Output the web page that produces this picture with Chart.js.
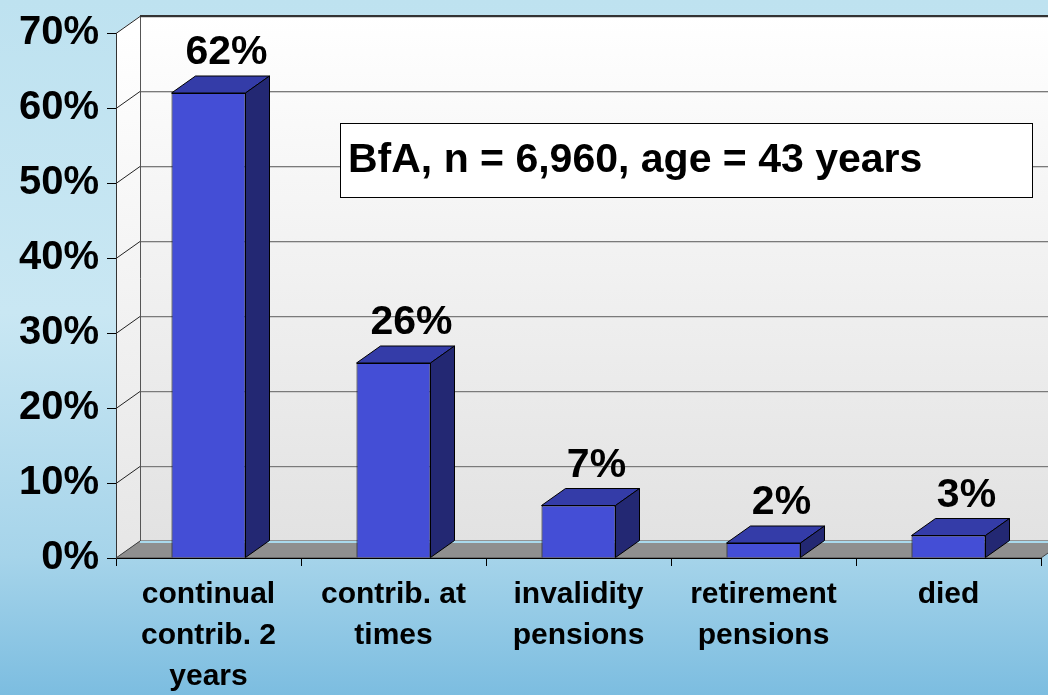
<!DOCTYPE html>
<html>
<head>
<meta charset="utf-8">
<script src="https://cdn.jsdelivr.net/npm/chart.js@4.4.0/dist/chart.umd.min.js"></script>
<style>
html, body { margin: 0; padding: 0; }
body { width: 1048px; height: 695px; overflow: hidden;
  background: linear-gradient(180deg, #bee2f0 0%, #c9e7f3 45%, #a6d4ea 80%, #7cbde0 100%); }
#wrap { position: relative; width: 1048px; height: 695px; }
</style>
</head>
<body>
<div id="wrap"><canvas id="mycanvas1"></canvas></div>
<script>
// data
var categories = [
  ["continual", "contrib. 2", "years"],
  ["contrib. at", "times"],
  ["invalidity", "pensions"],
  ["retirement", "pensions"],
  ["died"]
];
var percents = [62, 26, 7, 2, 3];
var yTicks = [0, 10, 20, 30, 40, 50, 60, 70];
var boxText = "BfA, n = 6,960, age = 43 years";

var FONT = '"Liberation Sans", Arial, sans-serif';
var DX = 24, DY = -17;   // depth of the 3d walls / bars

var walls = {
  id: 'walls',
  beforeDraw: function(chart) {
    var ctx = chart.ctx, a = chart.chartArea, y = chart.scales.y;
    var y0 = y.getPixelForValue(0), yTop = y.getPixelForValue(70);
    ctx.save();
    // back wall
    var g = ctx.createLinearGradient(0, yTop + DY, 0, y0 + DY);
    g.addColorStop(0, '#ffffff');
    g.addColorStop(1, '#e2e2e2');
    ctx.fillStyle = g;
    ctx.fillRect(a.left + DX, yTop + DY, chart.width - a.left - DX, y0 - yTop);
    // left wall
    var g2 = ctx.createLinearGradient(0, yTop, 0, y0);
    g2.addColorStop(0, '#ffffff');
    g2.addColorStop(1, '#e6e6e6');
    ctx.fillStyle = g2;
    ctx.beginPath();
    ctx.moveTo(a.left, yTop);
    ctx.lineTo(a.left + DX, yTop + DY);
    ctx.lineTo(a.left + DX, y0 + DY);
    ctx.lineTo(a.left, y0);
    ctx.closePath();
    ctx.fill();
    // grid lines
    yTicks.forEach(function(v) {
      var p = Math.round(y.getPixelForValue(v)) + 0.5;
      ctx.strokeStyle = '#7a7a7a';
      ctx.lineWidth = 1;
      ctx.beginPath();
      ctx.moveTo(a.left + DX, p + DY);
      ctx.lineTo(chart.width, p + DY);
      ctx.stroke();
      ctx.strokeStyle = '#cfcfcf';
      ctx.beginPath();
      ctx.moveTo(a.left + DX, p + DY + 1);
      ctx.lineTo(chart.width, p + DY + 1);
      ctx.stroke();
      ctx.strokeStyle = '#222';
      ctx.beginPath();
      ctx.moveTo(a.left, p);
      ctx.lineTo(a.left + DX, p + DY);
      ctx.stroke();
    });
    // back wall left edge
    ctx.strokeStyle = '#555';
    ctx.beginPath();
    ctx.moveTo(a.left + DX + 0.5, yTop + DY);
    ctx.lineTo(a.left + DX + 0.5, y0 + DY);
    ctx.stroke();
    // top edge of back wall
    ctx.strokeStyle = '#333';
    ctx.lineWidth = 2;
    ctx.beginPath();
    ctx.moveTo(a.left + DX, yTop + DY);
    ctx.lineTo(chart.width, yTop + DY);
    ctx.stroke();
    // floor
    ctx.fillStyle = '#8f8f8f';
    ctx.strokeStyle = '#444';
    ctx.lineWidth = 1;
    ctx.beginPath();
    ctx.moveTo(a.left, y0);
    ctx.lineTo(a.right, y0);
    ctx.lineTo(a.right + DX, y0 + DY);
    ctx.lineTo(a.left + DX, y0 + DY);
    ctx.closePath();
    ctx.fill();
    ctx.stroke();
    ctx.strokeStyle = '#a9d9ec';
    ctx.lineWidth = 2;
    ctx.beginPath();
    ctx.moveTo(a.left + DX, y0 + DY + 1);
    ctx.lineTo(chart.width, y0 + DY + 1);
    ctx.stroke();
    ctx.restore();
  }
};

var bars3d = {
  id: 'bars3d',
  afterDatasetsDraw: function(chart) {
    var ctx = chart.ctx;
    var meta = chart.getDatasetMeta(0);
    ctx.save();
    ctx.lineWidth = 1;
    ctx.strokeStyle = '#000';
    meta.data.forEach(function(bar, i) {
      var p = bar.getProps(['x', 'y', 'base', 'width'], true);
      var l = p.x - p.width / 2, r = p.x + p.width / 2, t = p.y, b = p.base;
      // top face
      ctx.fillStyle = '#343ca8';
      ctx.beginPath();
      ctx.moveTo(l, t);
      ctx.lineTo(l + DX, t + DY);
      ctx.lineTo(r + DX, t + DY);
      ctx.lineTo(r, t);
      ctx.closePath();
      ctx.fill();
      ctx.stroke();
      // side face
      ctx.fillStyle = '#232873';
      ctx.beginPath();
      ctx.moveTo(r, t);
      ctx.lineTo(r + DX, t + DY);
      ctx.lineTo(r + DX, b + DY);
      ctx.lineTo(r, b);
      ctx.closePath();
      ctx.fill();
      ctx.stroke();
      // value label
      ctx.fillStyle = '#000';
      ctx.font = 'bold 41px ' + FONT;
      ctx.textAlign = 'center';
      ctx.textBaseline = 'alphabetic';
      ctx.fillText(percents[i] + '%', p.x + DX / 2 + 6, t + DY - 12);
    });
    ctx.restore();
  },
  afterDraw: function(chart) {
    var ctx = chart.ctx;
    ctx.save();
    ctx.fillStyle = '#fff';
    ctx.fillRect(340, 123, 692, 74);
    ctx.strokeStyle = '#000';
    ctx.lineWidth = 1;
    ctx.strokeRect(340.5, 123.5, 692, 74);
    ctx.fillStyle = '#000';
    ctx.font = 'bold 41px ' + FONT;
    ctx.textAlign = 'left';
    ctx.fillText(boxText, 348, 172);
    ctx.restore();
  }
};

var ctx = document.getElementById('mycanvas1');
var chart = new Chart(ctx, {
  type: 'bar',
  data: {
    labels: categories,
    datasets: [{
      data: percents,
      backgroundColor: '#444ed6',
      borderColor: '#000',
      borderWidth: 1,
      barPercentage: 0.4,
      categoryPercentage: 1
    }]
  },
  options: {
    responsive: true,
    maintainAspectRatio: false,
    animation: false,
    devicePixelRatio: 1,
    layout: { padding: { top: 33, right: 7, left: 0, bottom: 0 } },
    plugins: { legend: { display: false }, tooltip: { enabled: false } },
    scales: {
      x: {
        grid: { display: true, drawOnChartArea: false, offset: true, tickLength: 8, color: '#000' },
        border: { display: true, color: '#000' },
        ticks: {
          font: { size: 30, weight: 'bold', family: FONT, lineHeight: 1.37 },
          color: '#000', padding: 8, maxRotation: 0, autoSkip: false
        },
        afterFit: function(s) { s.height = 137; }
      },
      y: {
        min: 0, max: 70,
        ticks: {
          stepSize: 10,
          font: { size: 40, weight: 'bold', family: FONT },
          color: '#000', padding: 8,
          callback: function(v) { return v + '%'; }
        },
        grid: { display: true, drawOnChartArea: false, tickLength: 9, color: '#000' },
        border: { display: true, color: '#333' },
        afterFit: function(s) { s.width = 116; }
      }
    }
  },
  plugins: [walls, bars3d]
});
</script>
</body>
</html>
